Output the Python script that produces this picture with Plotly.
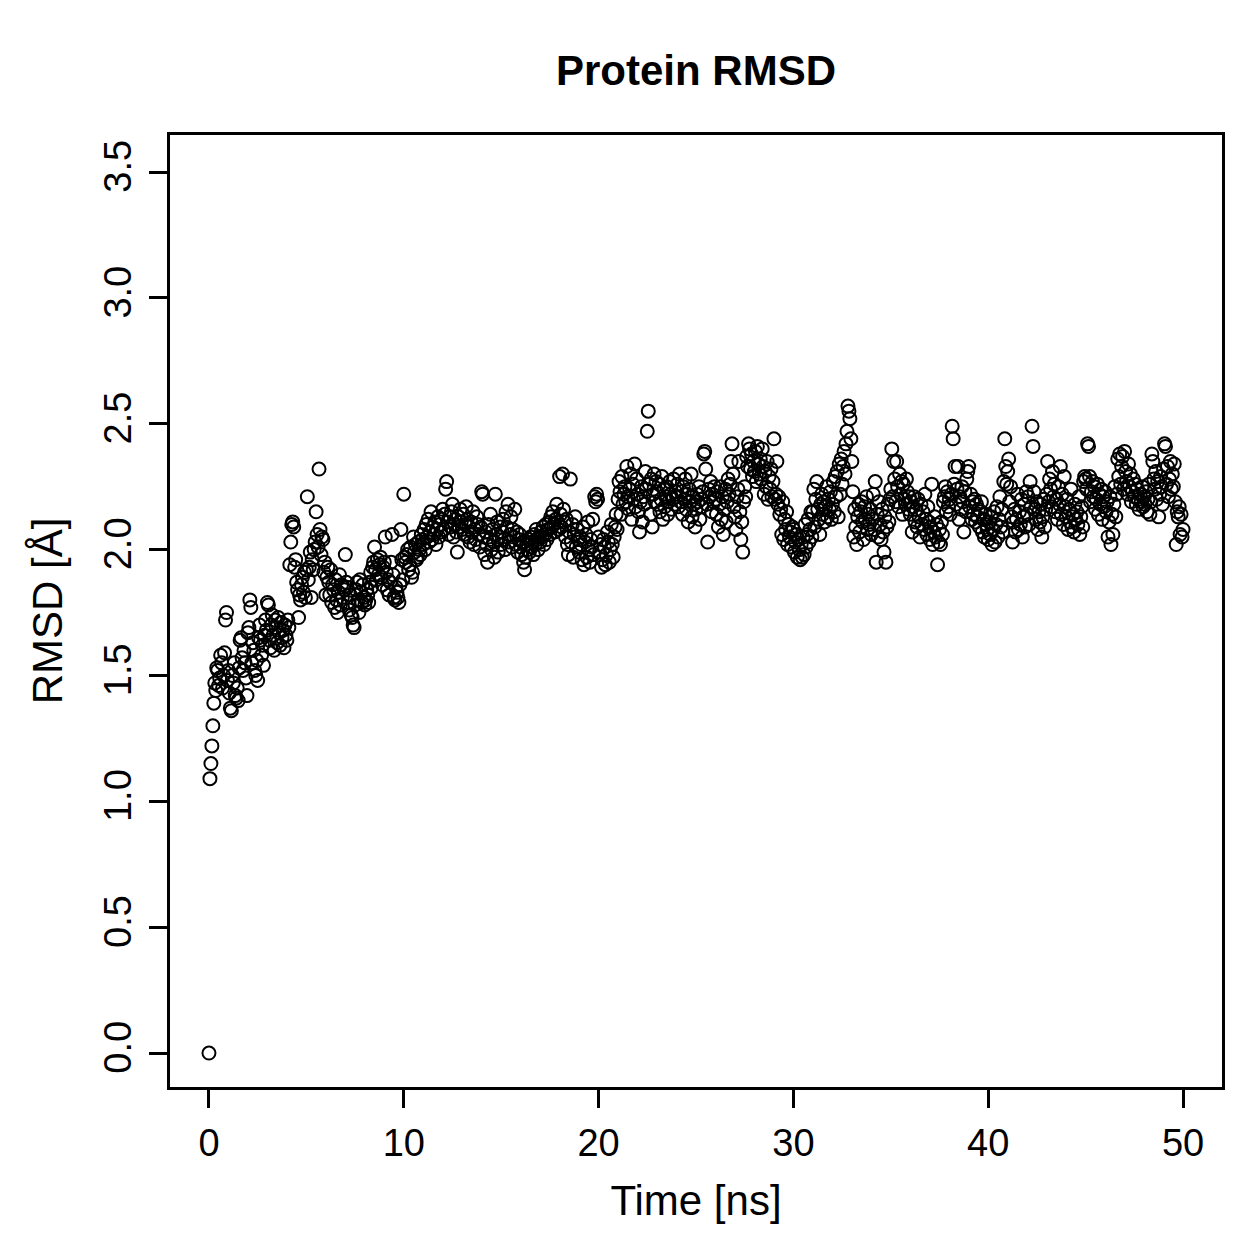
import numpy as np
import plotly.graph_objects as go

# RMSD values (Å), one row per nanosecond, 20 frames per ns (0.05 ns step)
rmsd = [
    0.00, 1.09, 1.15, 1.22, 1.30, 1.39, 1.47, 1.44, 1.53, 1.52, 1.46, 1.49, 1.58, 1.55, 1.45, 1.50, 1.59, 1.72, 1.75, 1.48,
    1.52, 1.43, 1.37, 1.36, 1.50, 1.47, 1.55, 1.42, 1.41, 1.45, 1.40, 1.53, 1.64, 1.65, 1.57, 1.52, 1.60, 1.55, 1.49, 1.42,
    1.67, 1.69, 1.80, 1.77, 1.55, 1.63, 1.60, 1.52, 1.50, 1.56, 1.48, 1.65, 1.70, 1.64, 1.58, 1.62, 1.54, 1.66, 1.72, 1.68,
    1.79, 1.78, 1.64, 1.61, 1.70, 1.74, 1.66, 1.60, 1.72, 1.69, 1.63, 1.73, 1.67, 1.62, 1.71, 1.65, 1.68, 1.61, 1.70, 1.66,
    1.64, 1.72, 1.69, 1.94, 2.03, 2.10, 2.11, 2.09, 1.93, 1.96, 1.87, 1.84, 1.73, 1.82, 1.80, 1.86, 1.89, 1.83, 1.91, 1.81,
    1.92, 2.21, 1.88, 1.93, 1.99, 1.81, 1.96, 1.92, 2.00, 2.03, 2.15, 2.06, 2.01, 2.32, 2.08, 1.98, 2.05, 2.04, 1.91, 1.95,
    1.82, 1.89, 1.93, 1.87, 1.82, 1.92, 1.79, 1.86, 1.84, 1.77, 1.88, 1.80, 1.75, 1.83, 1.90, 1.78, 1.86, 1.81, 1.85, 1.84,
    1.98, 1.87, 1.85, 1.79, 1.76, 1.82, 1.74, 1.73, 1.70, 1.69, 1.78, 1.84, 1.87, 1.80, 1.75, 1.88, 1.83, 1.79, 1.86, 1.81,
    1.78, 1.80, 1.84, 1.82, 1.79, 1.87, 1.91, 1.85, 1.93, 1.95, 2.01, 1.92, 1.88, 1.96, 1.90, 1.94, 1.97, 1.89, 1.86, 1.93,
    1.95, 2.05, 1.91, 1.84, 1.88, 1.82, 1.87, 1.95, 2.06, 1.90, 1.81, 1.80, 1.85, 1.83, 1.81, 1.79, 1.86, 2.08, 1.96, 1.88,
    2.22, 1.97, 1.95, 1.98, 2.00, 1.92, 1.94, 2.01, 1.89, 1.91, 2.05, 1.99, 2.02, 1.96, 1.97, 2.03, 2.00, 1.98, 2.06, 2.04,
    2.02, 2.08, 2.00, 2.10, 2.05, 2.12, 2.03, 2.07, 2.15, 2.04, 2.09, 2.06, 2.11, 2.02, 2.08, 2.13, 2.05, 2.10, 2.07, 2.12,
    2.16, 2.08, 2.14, 2.24, 2.27, 2.11, 2.06, 2.13, 2.09, 2.15, 2.18, 2.05, 2.10, 2.12, 2.07, 1.99, 2.13, 2.09, 2.16, 2.11,
    2.08, 2.14, 2.06, 2.10, 2.17, 2.12, 2.05, 2.09, 2.03, 2.11, 2.07, 2.15, 2.02, 2.08, 2.04, 2.13, 2.10, 2.06, 2.01, 2.09,
    2.23, 2.22, 2.05, 1.98, 2.07, 2.02, 1.95, 2.10, 2.04, 2.14, 2.00, 2.08, 2.03, 1.97, 2.22, 2.06, 2.11, 1.99, 2.05, 2.09,
    2.02, 2.07, 2.12, 2.04, 2.00, 2.15, 2.09, 2.18, 2.03, 2.06, 2.13, 2.01, 2.08, 2.05, 2.16, 2.02, 2.07, 1.99, 2.04, 2.06,
    2.01, 1.98, 2.03, 1.95, 1.92, 1.97, 2.02, 2.00, 2.04, 1.99, 2.05, 2.01, 2.03, 1.98, 2.06, 2.02, 2.08, 2.04, 2.00, 2.05,
    2.03, 2.07, 2.05, 2.09, 2.02, 2.06, 2.10, 2.04, 2.08, 2.11, 2.06, 2.13, 2.09, 2.15, 2.10, 2.07, 2.12, 2.18, 2.11, 2.08,
    2.29, 2.14, 2.09, 2.30, 2.16, 2.11, 2.05, 2.12, 2.02, 1.98, 2.07, 2.28, 2.03, 2.10, 1.97, 2.06, 2.13, 2.01, 2.08, 2.04,
    1.99, 2.05, 2.02, 1.96, 2.09, 1.94, 2.03, 2.06, 1.97, 2.11, 2.00, 1.95, 2.04, 2.01, 2.12, 1.98, 2.21, 2.19, 2.22, 2.20,
    2.05, 1.99, 2.02, 1.93, 1.96, 2.04, 2.01, 1.94, 1.98, 2.07, 2.03, 1.95, 2.00, 2.10, 2.02, 1.97, 2.05, 2.09, 2.14, 2.08,
    2.20, 2.27, 2.23, 2.14, 2.29, 2.18, 2.22, 2.25, 2.19, 2.33, 2.21, 2.16, 2.24, 2.30, 2.12, 2.26, 2.20, 2.34, 2.17, 2.28,
    2.22, 2.15, 2.07, 2.19, 2.25, 2.11, 2.21, 2.18, 2.31, 2.24, 2.47, 2.55, 2.26, 2.14, 2.28, 2.09, 2.22, 2.30, 2.19, 2.27,
    2.23, 2.18, 2.26, 2.15, 2.20, 2.29, 2.12, 2.24, 2.17, 2.21, 2.25, 2.14, 2.19, 2.27, 2.22, 2.16, 2.20, 2.28, 2.18, 2.23,
    2.21, 2.26, 2.17, 2.30, 2.19, 2.23, 2.14, 2.25, 2.20, 2.28, 2.16, 2.22, 2.11, 2.24, 2.19, 2.30, 2.13, 2.21, 2.18, 2.09,
    2.16, 2.22, 2.19, 2.25, 2.12, 2.20, 2.17, 2.23, 2.38, 2.39, 2.32, 2.18, 2.03, 2.24, 2.21, 2.27, 2.15, 2.22, 2.19, 2.25,
    2.20, 2.14, 2.23, 2.09, 2.18, 2.25, 2.12, 2.21, 2.06, 2.16, 2.24, 2.11, 2.19, 2.28, 2.22, 2.26, 2.35, 2.42, 2.30, 2.17,
    2.13, 2.08, 2.21, 2.24, 2.35, 2.15, 2.04, 2.11, 1.99, 2.19, 2.25, 2.21, 2.37, 2.33, 2.42, 2.40, 2.32, 2.38, 2.29, 2.35,
    2.31, 2.39, 2.27, 2.41, 2.34, 2.30, 2.36, 2.28, 2.40, 2.33, 2.22, 2.31, 2.25, 2.35, 2.20, 2.29, 2.24, 2.32, 2.21, 2.27,
    2.44, 2.20, 2.22, 2.35, 2.18, 2.21, 2.14, 2.16, 2.06, 2.19, 2.04, 2.12, 2.08, 2.15, 2.02, 2.10, 2.05, 2.07, 2.01, 2.09,
    2.08, 1.99, 2.03, 2.06, 1.97, 2.04, 2.00, 1.96, 2.02, 1.97, 2.05, 1.98, 2.10, 2.01, 2.06, 2.12, 2.03, 2.08, 2.15, 2.05,
    2.15, 2.24, 2.09, 2.20, 2.27, 2.16, 2.12, 2.06, 2.18, 2.22, 2.14, 2.19, 2.11, 2.17, 2.25, 2.13, 2.20, 2.16, 2.23, 2.12,
    2.18, 2.27, 2.15, 2.29, 2.21, 2.31, 2.13, 2.34, 2.22, 2.36, 2.26, 2.33, 2.39, 2.30, 2.42, 2.47, 2.57, 2.55, 2.52, 2.44,
    2.35, 2.23, 2.05, 2.16, 2.09, 2.02, 2.13, 2.18, 2.07, 2.15, 2.19, 2.11, 2.04, 2.17, 2.12, 2.21, 2.08, 2.14, 2.10, 2.16,
    2.06, 2.12, 2.22, 2.08, 2.27, 1.95, 2.14, 2.05, 2.19, 2.10, 2.04, 2.16, 2.07, 1.99, 2.13, 1.95, 2.09, 2.18, 2.11, 2.20,
    2.24, 2.40, 2.21, 2.35, 2.28, 2.19, 2.35, 2.25, 2.17, 2.30, 2.22, 2.27, 2.14, 2.26, 2.20, 2.18, 2.28, 2.23, 2.16, 2.21,
    2.14, 2.19, 2.07, 2.17, 2.21, 2.11, 2.16, 2.09, 2.20, 2.13, 2.05, 2.18, 2.10, 2.15, 2.08, 2.22, 2.12, 2.06, 2.17, 2.11,
    2.04, 2.09, 2.26, 2.02, 2.07, 2.13, 2.05, 2.10, 1.94, 2.03, 2.08, 2.02, 2.11, 2.06, 2.19, 2.21, 2.25, 2.15, 2.23, 2.17,
    2.20, 2.14, 2.22, 2.49, 2.44, 2.26, 2.33, 2.18, 2.24, 2.33, 2.12, 2.21, 2.16, 2.25, 2.19, 2.07, 2.23, 2.15, 2.28, 2.31,
    2.33, 2.17, 2.22, 2.12, 2.19, 2.14, 2.20, 2.11, 2.18, 2.13, 2.16, 2.09, 2.15, 2.19, 2.07, 2.12, 2.05, 2.14, 2.10, 2.08,
    2.04, 2.11, 2.06, 2.13, 2.02, 2.08, 2.15, 2.03, 2.10, 2.17, 2.05, 2.12, 2.21, 2.09, 2.16, 2.07, 2.27, 2.44, 2.33, 2.26,
    2.31, 2.36, 2.19, 2.25, 2.13, 2.03, 2.11, 2.16, 2.07, 2.12, 2.22, 2.08, 2.15, 2.10, 2.20, 2.05, 2.13, 2.18, 2.09, 2.23,
    2.14, 2.21, 2.10, 2.27, 2.17, 2.49, 2.41, 2.23, 2.16, 2.12, 2.19, 2.08, 2.15, 2.11, 2.18, 2.05, 2.13, 2.20, 2.09, 2.16,
    2.22, 2.35, 2.19, 2.28, 2.24, 2.17, 2.31, 2.21, 2.26, 2.15, 2.20, 2.12, 2.25, 2.18, 2.33, 2.14, 2.22, 2.10, 2.29, 2.17,
    2.13, 2.20, 2.08, 2.16, 2.11, 2.24, 2.09, 2.14, 2.07, 2.18, 2.12, 2.15, 2.10, 2.21, 2.06, 2.13, 2.17, 2.09, 2.27, 2.29,
    2.28, 2.24, 2.42, 2.41, 2.29, 2.19, 2.23, 2.27, 2.21, 2.25, 2.16, 2.20, 2.26, 2.14, 2.22, 2.18, 2.24, 2.12, 2.21, 2.17,
    2.23, 2.15, 2.19, 2.05, 2.11, 2.21, 2.02, 2.14, 2.06, 2.18, 2.25, 2.13, 2.22, 2.36, 2.29, 2.38, 2.26, 2.33, 2.37, 2.24,
    2.39, 2.31, 2.27, 2.22, 2.34, 2.25, 2.30, 2.19, 2.23, 2.28, 2.21, 2.26, 2.18, 2.24, 2.20, 2.16, 2.22, 2.19, 2.25, 2.17,
    2.21, 2.18, 2.23, 2.15, 2.20, 2.26, 2.14, 2.19, 2.38, 2.35, 2.28, 2.24, 2.31, 2.20, 2.27, 2.13, 2.22, 2.29, 2.25, 2.18,
    2.32, 2.42, 2.41, 2.26, 2.33, 2.21, 2.28, 2.35, 2.24, 2.30, 2.25, 2.34, 2.19, 2.02, 2.15, 2.13, 2.17, 2.06, 2.14, 2.05,
    2.08,
]

t_start, t_end = 0.0, 50.0
time_ns = np.linspace(t_start, t_end, len(rmsd))

x_ticks = [0, 10, 20, 30, 40, 50]
y_ticks = [0.0, 0.5, 1.0, 1.5, 2.0, 2.5, 3.0, 3.5]

FONT = "Liberation Sans, Arial, Helvetica, sans-serif"

fig = go.Figure()
fig.add_trace(go.Scatter(
    x=time_ns, y=rmsd, mode="markers",
    marker=dict(symbol="circle-open", size=13, color="black",
                line=dict(color="black", width=2)),
    showlegend=False, hoverinfo="x+y",
))

fig.update_layout(
    width=1259, height=1259,
    margin=dict(l=170, r=37, t=135, b=172),
    paper_bgcolor="white", plot_bgcolor="white",
    font=dict(family=FONT, size=38, color="black"),
    title=dict(text="<b>Protein RMSD</b>", x=(170 + 1222) / 2 / 1259, xanchor="center",
               y=1 - 70 / 1259, yanchor="middle", yref="container",
               font=dict(family=FONT, size=42, color="black")),
)
fig.update_xaxes(
    range=[-2, 52], tickvals=x_ticks, ticktext=[str(v) for v in x_ticks],
    showgrid=False, zeroline=False, showline=True, linecolor="black", linewidth=2.5,
    mirror=True, ticks="outside", ticklen=18, tickwidth=2.5, tickcolor="black",
    tickfont=dict(size=38), ticklabelstandoff=3,
    title=dict(text="Time [ns]", font=dict(size=42), standoff=23),
)
fig.update_yaxes(
    range=[-0.135, 3.647], tickvals=y_ticks, ticktext=[f"{v:.1f}" for v in y_ticks],
    showgrid=False, zeroline=False, showline=True, linecolor="black", linewidth=2.5,
    mirror=True, ticks="outside", ticklen=18, tickwidth=2.5, tickcolor="black",
    tickfont=dict(size=38), tickangle=-90, ticklabelstandoff=3,
    title=dict(text="RMSD [Å]", font=dict(size=42), standoff=22),
)

fig.write_html("out.html")
